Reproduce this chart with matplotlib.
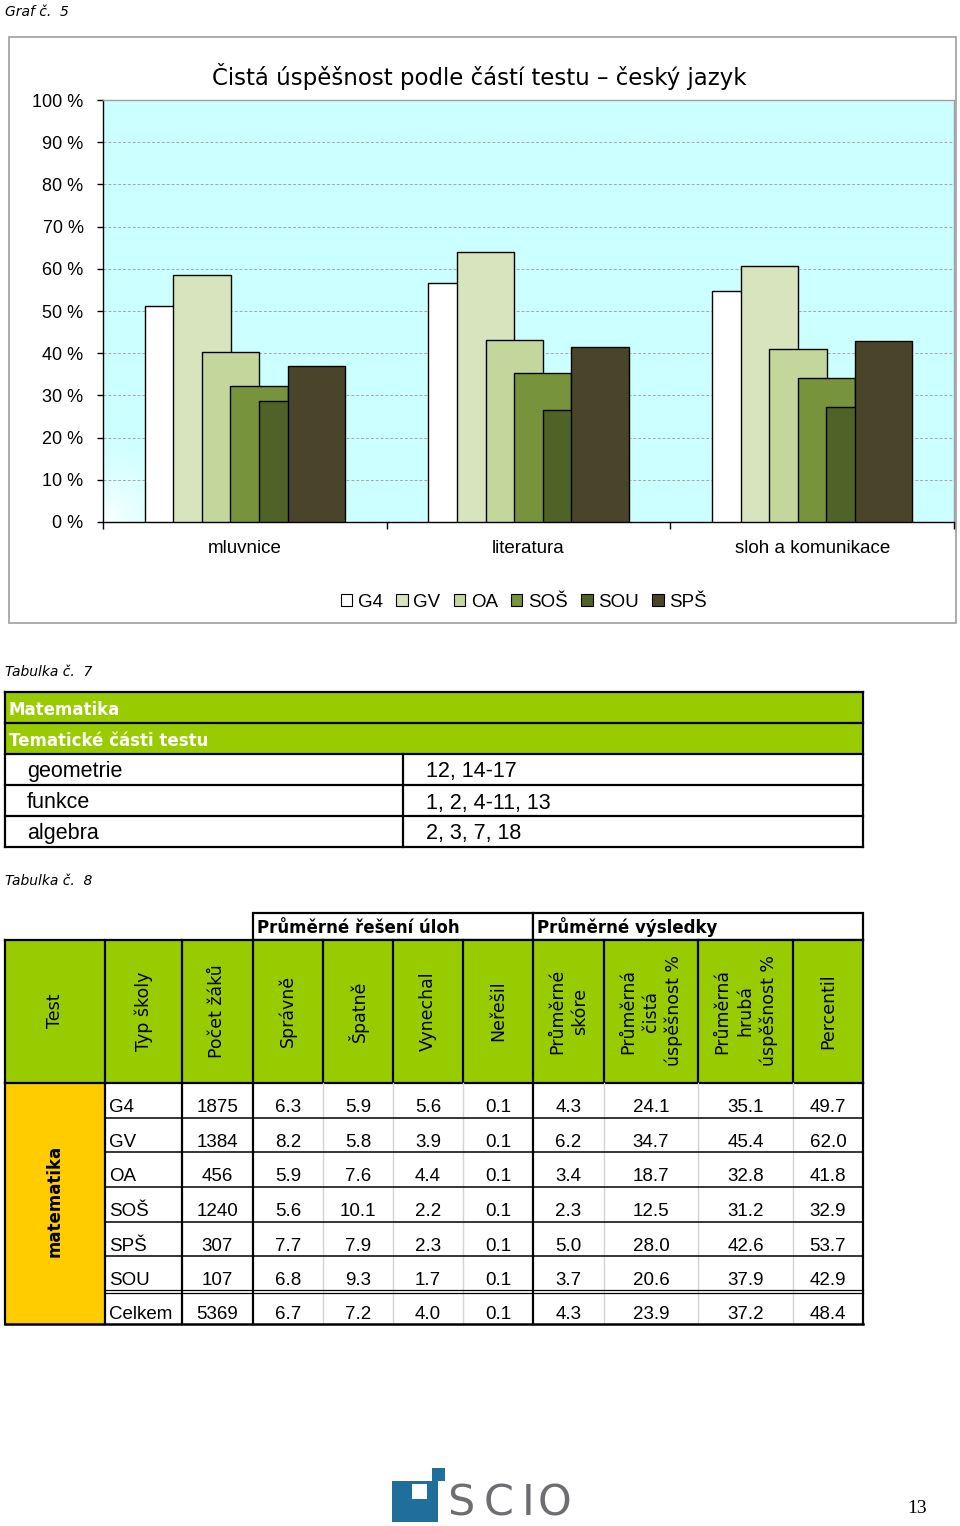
import numpy as np
import matplotlib
matplotlib.use('Agg')
import matplotlib.pyplot as plt
from matplotlib.patches import Rectangle, Patch

plt.rcParams['font.family'] = ['Liberation Sans', 'DejaVu Sans']

# ---------------- data ----------------
categories = ['mluvnice', 'literatura', 'sloh a komunikace']
schools = ['G4', 'GV', 'OA', 'SOŠ', 'SOU', 'SPŠ']
g4 = [51.3, 56.7, 54.7]
gv = [58.5, 64.0, 60.7]
oa = [40.4, 43.1, 40.9]
sos = [32.2, 35.2, 34.2]
sou = [28.6, 26.6, 27.3]
sps = [36.9, 41.5, 42.9]
yticks = [0, 10, 20, 30, 40, 50, 60, 70, 80, 90, 100]
chart_title = 'Čistá úspěšnost podle částí testu – český jazyk'

t7_title = 'Matematika'
t7_subtitle = 'Tematické části testu'
t7_parts = ['geometrie', 'funkce', 'algebra']
t7_items = ['12, 14-17', '1, 2, 4-11, 13', '2, 3, 7, 18']

t8_groups = ['Průměrné řešení úloh', 'Průměrné výsledky']
t8_headers = ['Test', 'Typ školy', 'Počet žáků', 'Správně', 'Špatně', 'Vynechal',
              'Neřešil', 'Průměrné\nskóre', 'Průměrná\nčistá\núspěšnost %',
              'Průměrná\nhrubá\núspěšnost %', 'Percentil']
t8_test = 'matematika'
t8_types = ['G4', 'GV', 'OA', 'SOŠ', 'SPŠ', 'SOU', 'Celkem']
t8_count = [1875, 1384, 456, 1240, 307, 107, 5369]
t8_spravne = [6.3, 8.2, 5.9, 5.6, 7.7, 6.8, 6.7]
t8_spatne = [5.9, 5.8, 7.6, 10.1, 7.9, 9.3, 7.2]
t8_vynechal = [5.6, 3.9, 4.4, 2.2, 2.3, 1.7, 4.0]
t8_neresil = [0.1, 0.1, 0.1, 0.1, 0.1, 0.1, 0.1]
t8_skore = [4.3, 6.2, 3.4, 2.3, 5.0, 3.7, 4.3]
t8_cista = [24.1, 34.7, 18.7, 12.5, 28.0, 20.6, 23.9]
t8_hruba = [35.1, 45.4, 32.8, 31.2, 42.6, 37.9, 37.2]
t8_percentil = [49.7, 62.0, 41.8, 32.9, 53.7, 42.9, 48.4]

logo_letters = ['S', 'C', 'I', 'O']
page_number = '13'

# ---------------- styles ----------------
colors = ['#ffffff', '#d7e4bd', '#c3d69b', '#77933c', '#4f6228', '#4a452a']
GREEN = '#99cc00'
ORANGE = '#ffcc00'

W, H = 960, 1526
fig = plt.figure(figsize=(W / 100, H / 100), dpi=100)

pg = fig.add_axes([0, 0, 1, 1], zorder=0)
pg.set_xlim(0, W)
pg.set_ylim(H, 0)
pg.axis('off')


def fx(x):
    return x / W


def fy(y):
    return 1 - y / H


ITAL = dict(family='DejaVu Sans', style='italic', fontsize=10)
pg.text(5, 16, 'Graf č.  5', **ITAL)

# chart frame
pg.add_patch(Rectangle((9, 37), 947, 586, fill=False, ec='#a6a6a6', lw=1.3))
pg.text(479, 77, chart_title, ha='center', va='center', fontsize=16.5,
        family='DejaVu Sans')

# ---------------- bar chart ----------------
L, R, T, B = 103, 954, 100, 522
ax = fig.add_axes([fx(L), fy(B), (R - L) / W, (B - T) / H], zorder=2)

# background with white glow in lower-left corner
gx = np.linspace(0, R - L, 400)
gy = np.linspace(0, B - T, 200)
X, Y = np.meshgrid(gx, gy)
d = np.hypot(X, Y)
t = np.clip(d / 90.0, 0, 1) ** 0.7
cyan = np.array([0.80, 1.0, 1.0])
img = (1 - t)[..., None] * np.ones(3) + t[..., None] * cyan
ax.imshow(img, extent=[-0.5, 2.5, 0, 100], origin='lower', aspect='auto',
          zorder=0, interpolation='bilinear')
ax.set_ylim(0, 100)
ax.set_xlim(-0.5, 2.5)

x = np.arange(len(categories))
step, width = 0.1008, 0.2023
series = [g4, gv, oa, sos, sou, sps]
for i, (name, vals, col) in enumerate(zip(schools, series, colors)):
    ax.bar(x + (i - 2.5) * step, vals, width=width, color=col,
           edgecolor='black', linewidth=1.0, zorder=3 + i, label=name)

ax.set_axisbelow(True)
ax.yaxis.grid(True, linestyle=(0, (3, 2)), color='#a6a6a6', lw=0.7)
ax.set_yticks(yticks)
ax.set_yticklabels([f'{v} %' for v in yticks])
ax.tick_params(axis='y', direction='out', length=4, width=1, labelsize=13,
               pad=10, colors='black')
ax.set_xticks(x)
ax.set_xticklabels(categories)
ax.tick_params(axis='x', length=0, labelsize=13.5, pad=13)
ax.set_xticks([-0.5, 0.5, 1.5, 2.5], minor=True)
ax.tick_params(axis='x', which='minor', direction='out', length=5, width=1)
for s in ['left', 'bottom']:
    ax.spines[s].set_color('black')
    ax.spines[s].set_linewidth(1.0)
for s in ['top', 'right']:
    ax.spines[s].set_color('#a0a0a0')
    ax.spines[s].set_linewidth(1.0)

handles = [Patch(facecolor=c, edgecolor='black', lw=0.8) for c in colors]
fig.legend(handles, schools, loc='center', bbox_to_anchor=(fx(524), fy(602)),
           ncol=6, frameon=False, handlelength=0.6, handleheight=0.6,
           handletextpad=0.3, columnspacing=0.72, fontsize=13.5)

# ---------------- table 7 ----------------
pg.text(5, 676, 'Tabulka č.  7', **ITAL)
t7_l, t7_r, t7_div = 5, 863, 403
t7_rows = [692, 723, 754, 785, 816, 847]
for k in range(2):
    pg.add_patch(Rectangle((t7_l, t7_rows[k]), t7_r - t7_l,
                           t7_rows[k + 1] - t7_rows[k], fc=GREEN, ec='none'))
for yy in t7_rows:
    pg.plot([t7_l, t7_r], [yy, yy], color='black', lw=1.6,
            solid_capstyle='projecting')
for xx in [t7_l, t7_r]:
    pg.plot([xx, xx], [t7_rows[0], t7_rows[-1]], color='black', lw=1.6)
pg.plot([t7_div, t7_div], [t7_rows[2], t7_rows[-1]], color='black', lw=1.6)
HB = dict(family='DejaVu Sans', weight='bold', fontsize=12, color='white')
pg.text(9, 715, t7_title, **HB)
pg.text(9, 745.5, t7_subtitle, **HB)
for k, (p, it) in enumerate(zip(t7_parts, t7_items)):
    base = t7_rows[k + 2] + 23.5
    pg.text(27, base, p, fontsize=15.5, va='baseline')
    pg.text(426, base, it, fontsize=15.5, va='baseline')

# ---------------- table 8 ----------------
pg.text(5, 885, 'Tabulka č.  8', **ITAL)
cols = [5, 105, 182, 253, 323, 393, 463, 533, 604, 698, 793, 863]
gh_top, h_top, h_bot = 913, 940, 1083
rows = [1083, 1118, 1152, 1187, 1222, 1256, 1291, 1324]

# group header
for (a, b), g in zip([(cols[3], cols[7]), (cols[7], cols[11])], t8_groups):
    pg.add_patch(Rectangle((a, gh_top), b - a, h_top - gh_top, fc='white',
                           ec='black', lw=1.6))
    pg.text(a + 4, 933, g, family='DejaVu Sans', weight='bold', fontsize=12,
            va='baseline')

# header row
pg.add_patch(Rectangle((cols[0], h_top), cols[-1] - cols[0], h_bot - h_top,
                       fc=GREEN, ec='none'))
for xx in cols:
    pg.plot([xx, xx], [h_top, h_bot], color='black', lw=1.6)
for yy in [h_top, h_bot]:
    pg.plot([cols[0], cols[-1]], [yy, yy], color='black', lw=1.6)
for k, hd in enumerate(t8_headers):
    cx = (cols[k] + cols[k + 1]) / 2
    pg.text(cx, 1011, hd, rotation=90, ha='center', va='center',
            multialignment='center', family='DejaVu Sans', fontsize=12.5,
            linespacing=1.35)

# orange test cell
pg.add_patch(Rectangle((cols[0], rows[0]), cols[1] - cols[0],
                       rows[-1] - rows[0], fc=ORANGE, ec='none'))
pg.text((cols[0] + cols[1]) / 2, 1201, t8_test,
        rotation=90, ha='center', va='center', family='DejaVu Sans',
        weight='bold', fontsize=12)

# data grid
thin_cols = [4, 5, 6, 8, 9, 10]
for k in thin_cols:
    pg.plot([cols[k], cols[k]], [rows[0], rows[-1]], color='#d4d4d4', lw=1.0)
for k in [0, 1, 2, 3, 7, 11]:
    pg.plot([cols[k], cols[k]], [rows[0], rows[-1]], color='black', lw=1.6)
for yy in rows[1:-2]:
    pg.plot([cols[1], cols[-1]], [yy, yy], color='black', lw=1.1)
pg.plot([cols[1], cols[-1]], [rows[-2] - 1.5, rows[-2] - 1.5], color='black', lw=0.9)
pg.plot([cols[1], cols[-1]], [rows[-2] + 1.5, rows[-2] + 1.5], color='black', lw=0.9)
pg.plot([cols[0], cols[-1]], [rows[-1], rows[-1]], color='black', lw=1.8)

numeric = [t8_count, t8_spravne, t8_spatne, t8_vynechal, t8_neresil,
           t8_skore, t8_cista, t8_hruba, t8_percentil]
for r, typ in enumerate(t8_types):
    base = rows[r] + 29 if r < 6 else rows[r] + 28
    pg.text(cols[1] + 4, base, typ, fontsize=13.5, va='baseline')
    for c, colvals in enumerate(numeric):
        k = c + 2
        cx = (cols[k] + cols[k + 1]) / 2
        v = colvals[r]
        s = f'{v}' if isinstance(v, int) else f'{v:.1f}'
        pg.text(cx, base, s, fontsize=13.5, ha='center', va='baseline')

# ---------------- footer: logo & page number ----------------
BLUE = '#1f6e9c'
pg.add_patch(Rectangle((392, 1481), 46, 41, fc=BLUE, ec='none'))
pg.add_patch(Rectangle((412, 1484), 15, 15, fc='white', ec='none'))
pg.add_patch(Rectangle((432, 1468), 13, 13, fc=BLUE, ec='none'))
for lx, letter in zip([447, 484, 522, 538], logo_letters):
    pg.text(lx, 1515, letter, family='DejaVu Sans', fontsize=31,
            color='#6d6e71', va='baseline', ha='left')
pg.text(917, 1513, page_number, family='Liberation Serif', fontsize=14,
        ha='center', va='baseline')

fig.savefig('out.png', dpi=100)
